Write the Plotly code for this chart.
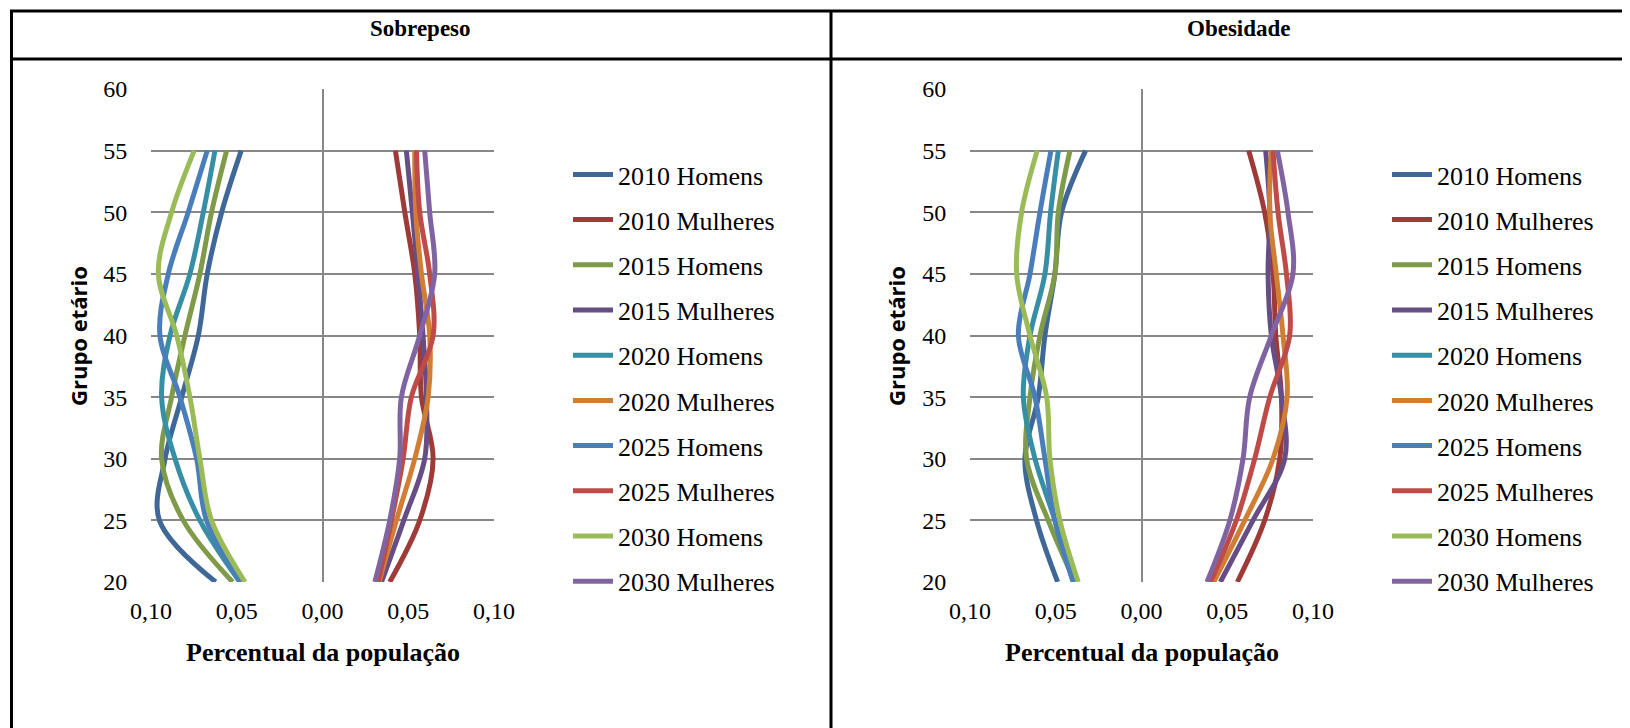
import plotly.graph_objects as go

W, H = 1630, 728
OFF = 8  # browser body margin compensation

ages = [20, 25, 30, 35, 40, 45, 50, 55]
series_names = ["2010 Homens", "2010 Mulheres", "2015 Homens", "2015 Mulheres",
                "2020 Homens", "2020 Mulheres", "2025 Homens", "2025 Mulheres",
                "2030 Homens", "2030 Mulheres"]
colors = ["#3F6797", "#9E3B38", "#7F9A48", "#664D85", "#378FA5",
          "#D17E35", "#4A7EBB", "#BE4B48", "#9BBB59", "#8064A2"]

# Sobrepeso (men negative, women positive), ages 20..55
sob_2010_h = [-0.0623, -0.0951, -0.0918, -0.0821, -0.0724, -0.0672, -0.0588, -0.0474]
sob_2010_m = [0.0392, 0.0567, 0.0645, 0.0577, 0.0567, 0.0538, 0.0480, 0.0425]
sob_2015_h = [-0.0524, -0.0812, -0.0938, -0.0880, -0.0802, -0.0715, -0.0647, -0.0559]
sob_2015_m = [0.0344, 0.0474, 0.0596, 0.0606, 0.0586, 0.0557, 0.0524, 0.0489]
sob_2020_h = [-0.0482, -0.0715, -0.0860, -0.0938, -0.0889, -0.0773, -0.0695, -0.0627]
sob_2020_m = [0.0330, 0.0431, 0.0538, 0.0616, 0.0625, 0.0577, 0.0544, 0.0538]
sob_2025_h = [-0.0472, -0.0676, -0.0734, -0.0831, -0.0948, -0.0899, -0.0783, -0.0672]
sob_2025_m = [0.0324, 0.0402, 0.0470, 0.0518, 0.0645, 0.0625, 0.0567, 0.0548]
sob_2030_h = [-0.0452, -0.0647, -0.0715, -0.0773, -0.0850, -0.0957, -0.0880, -0.0748]
sob_2030_m = [0.0305, 0.0392, 0.0450, 0.0460, 0.0567, 0.0654, 0.0625, 0.0596]

# Obesidade
obe_2010_h = [-0.0489, -0.0612, -0.0680, -0.0602, -0.0563, -0.0505, -0.0466, -0.0326]
obe_2010_m = [0.0559, 0.0718, 0.0806, 0.0816, 0.0783, 0.0767, 0.0718, 0.0625]
obe_2015_h = [-0.0388, -0.0544, -0.0670, -0.0650, -0.0592, -0.0505, -0.0485, -0.0417]
obe_2015_m = [0.0460, 0.0650, 0.0835, 0.0816, 0.0757, 0.0738, 0.0748, 0.0724]
obe_2020_h = [-0.0398, -0.0505, -0.0621, -0.0689, -0.0650, -0.0563, -0.0530, -0.0485]
obe_2020_m = [0.0421, 0.0602, 0.0767, 0.0849, 0.0825, 0.0786, 0.0748, 0.0757]
obe_2025_h = [-0.0398, -0.0505, -0.0563, -0.0621, -0.0718, -0.0650, -0.0592, -0.0528]
obe_2025_m = [0.0402, 0.0553, 0.0660, 0.0748, 0.0864, 0.0845, 0.0796, 0.0767]
obe_2030_h = [-0.0369, -0.0476, -0.0534, -0.0553, -0.0650, -0.0728, -0.0699, -0.0608]
obe_2030_m = [0.0382, 0.0515, 0.0592, 0.0631, 0.0757, 0.0883, 0.0854, 0.0792]

sob_series = [sob_2010_h, sob_2010_m, sob_2015_h, sob_2015_m, sob_2020_h,
              sob_2020_m, sob_2025_h, sob_2025_m, sob_2030_h, sob_2030_m]
obe_series = [obe_2010_h, obe_2010_m, obe_2015_h, obe_2015_m, obe_2020_h,
              obe_2020_m, obe_2025_h, obe_2025_m, obe_2030_h, obe_2030_m]

panel_titles = ["Sobrepeso", "Obesidade"]
x_tickvals = [-0.10, -0.05, 0.0, 0.05, 0.10]
x_ticktext = ["0,10", "0,05", "0,00", "0,05", "0,10"]
y_tickvals = [20, 25, 30, 35, 40, 45, 50, 55, 60]
x_title = "Percentual da população"
y_title = "Grupo etário"

SERIF = "Liberation Serif"
SANS = "Open Sans"

fig = go.Figure()

def px_x(p):
    return (p - OFF) / W

def px_y(p):
    return 1 - (p - OFF) / H

for idx, (data, xa, ya, leg) in enumerate([(sob_series, "x", "y", "legend"),
                                            (obe_series, "x2", "y2", "legend2")]):
    for name, col, vals in zip(series_names, colors, data):
        fig.add_trace(go.Scatter(
            x=vals, y=ages, mode="lines", name=name,
            line=dict(color=col, width=5, shape="spline", smoothing=1.0),
            xaxis=xa, yaxis=ya, legend=leg, legendgroup=name + str(idx),
            hoverinfo="skip"))

plot_top, plot_bot = 89, 582
domains = [(151, 494), (970, 1313)]

tickfont = dict(family=SERIF, size=24, color="black")
axis_common_x = dict(range=[-0.10, 0.10], tickvals=x_tickvals, ticktext=x_ticktext,
                     showgrid=False, zeroline=True, zerolinecolor="#878787",
                     zerolinewidth=1.5, showline=False, ticks="outside",
                     ticklen=7, tickcolor="rgba(0,0,0,0)", automargin=False,
                     tickfont=tickfont, fixedrange=True)
axis_common_y = dict(range=[20, 60], tickvals=y_tickvals, showgrid=True,
                     gridcolor="#878787", gridwidth=1.5, zeroline=False,
                     showline=False, ticks="outside", ticklen=18,
                     tickcolor="rgba(0,0,0,0)", automargin=False,
                     tickfont=tickfont, fixedrange=True)

fig.update_layout(
    xaxis=dict(domain=[px_x(domains[0][0]), px_x(domains[0][1])], anchor="y", **axis_common_x),
    yaxis=dict(domain=[px_y(plot_bot), px_y(plot_top)], anchor="x", **axis_common_y),
    xaxis2=dict(domain=[px_x(domains[1][0]), px_x(domains[1][1])], anchor="y2", **axis_common_x),
    yaxis2=dict(domain=[px_y(plot_bot), px_y(plot_top)], anchor="x2", **axis_common_y),
)

leg_common = dict(font=dict(family=SERIF, size=26, color="black"),
                  bgcolor="rgba(0,0,0,0)", tracegroupgap=8.4,
                  xanchor="left", yanchor="top", itemwidth=40,
                  itemclick=False, itemdoubleclick=False)
fig.update_layout(
    legend=dict(x=px_x(568), y=px_y(151), **leg_common),
    legend2=dict(x=px_x(1387), y=px_y(151), **leg_common),
)

annotations = []
centers = [421, 1239]
for i, t in enumerate(panel_titles):
    annotations.append(dict(text="<b>" + t + "</b>", x=px_x(centers[i]), y=px_y(28),
                            xref="paper", yref="paper", showarrow=False,
                            xanchor="center", yanchor="middle",
                            font=dict(family=SERIF, size=23, color="black")))
    zero_x = (domains[i][0] + domains[i][1]) / 2
    annotations.append(dict(text="<b>" + x_title + "</b>", x=px_x(zero_x), y=px_y(652),
                            xref="paper", yref="paper", showarrow=False,
                            xanchor="center", yanchor="middle",
                            font=dict(family=SERIF, size=26, color="black")))
    ytx = 78 if i == 0 else 896
    annotations.append(dict(text="<b>" + y_title + "</b>", x=px_x(ytx), y=px_y(336),
                            xref="paper", yref="paper", showarrow=False, textangle=-90,
                            xanchor="center", yanchor="middle",
                            font=dict(family=SANS, size=22, color="black")))

shapes = []
lw = 3
shapes.append(dict(type="line", xref="paper", yref="paper", x0=px_x(10), x1=1.0,
                   y0=px_y(11), y1=px_y(11), line=dict(color="black", width=lw)))
shapes.append(dict(type="line", xref="paper", yref="paper", x0=px_x(10), x1=1.0,
                   y0=px_y(59), y1=px_y(59), line=dict(color="black", width=lw)))
shapes.append(dict(type="line", xref="paper", yref="paper", x0=px_x(11.5), x1=px_x(11.5),
                   y0=px_y(10), y1=0, line=dict(color="black", width=lw)))
shapes.append(dict(type="line", xref="paper", yref="paper", x0=px_x(831), x1=px_x(831),
                   y0=px_y(10), y1=0, line=dict(color="black", width=lw)))

fig.update_layout(
    width=W, height=H, margin=dict(l=0, r=0, t=0, b=0, pad=0, autoexpand=False),
    paper_bgcolor="white", plot_bgcolor="white",
    font=dict(family=SERIF, size=24, color="black"),
    annotations=annotations, shapes=shapes, showlegend=True,
)

fig.write_html("out.html", config={"displayModeBar": False})
